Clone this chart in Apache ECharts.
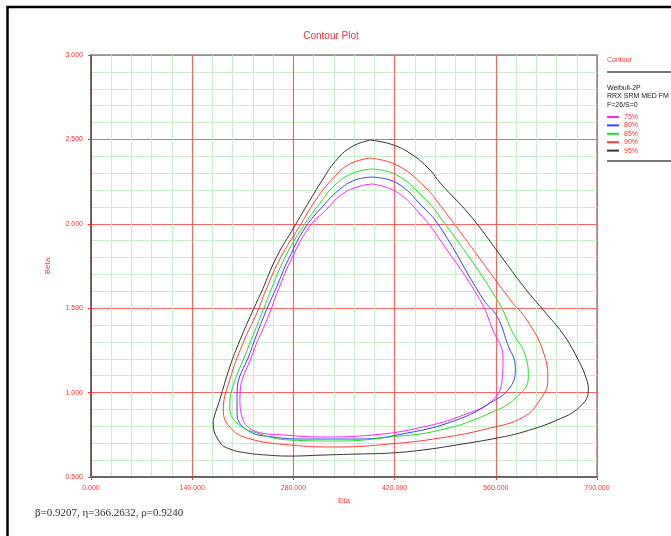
<!DOCTYPE html>
<html><head><meta charset="utf-8">
<script src="https://cdn.jsdelivr.net/npm/echarts@6/dist/echarts.min.js"></script>
<style>html,body{margin:0;padding:0;background:#fff}#c{width:671px;height:536px}</style>
</head><body><div id="c"></div>
<script>
// Eta (x) and Beta (y) points of each confidence contour, read clockwise from the top
const c75 = [[389,2.236],[423,2.188],[459,2.04],[483,1.904],[538,1.55],[556,1.37],[570,1.21],[569,1.09],[556,0.956],[515,0.867],[459,0.796],[390,0.749],[321,0.737],[266,0.749],[230,0.767],[209,0.856],[206,0.974],[224,1.235],[245,1.448],[259,1.608],[278,1.797],[302,1.981],[325,2.082],[346,2.171],[368,2.218],[389,2.236]];
const c80 = [[389,2.277],[423,2.242],[459,2.10],[483,1.98],[543,1.55],[562,1.45],[576,1.29],[587,1.15],[580,1.033],[552,0.938],[506,0.838],[437,0.76],[368,0.725],[298,0.725],[252,0.737],[216,0.778],[202,0.88],[202,0.998],[220,1.235],[241,1.472],[255,1.608],[274,1.797],[297,1.981],[321,2.105],[343,2.20],[365,2.259],[389,2.277]];
const c85 = [[389,2.325],[423,2.289],[459,2.16],[483,2.04],[562,1.55],[584,1.35],[600,1.23],[605,1.09],[589,0.974],[552,0.878],[483,0.778],[414,0.737],[344,0.713],[275,0.719],[230,0.76],[202,0.82],[192,0.915],[196,1.033],[216,1.25],[237,1.477],[249,1.608],[268,1.797],[293,1.981],[317,2.123],[339,2.236],[363,2.301],[389,2.325]];
const c90 = [[386,2.39],[423,2.348],[459,2.23],[483,2.11],[580,1.55],[603,1.43],[625,1.25],[632,1.075],[621,0.956],[598,0.855],[552,0.79],[483,0.731],[414,0.696],[344,0.678],[275,0.690],[216,0.731],[192,0.796],[183,0.897],[192,1.075],[210,1.29],[230,1.477],[242,1.608],[262,1.797],[288,1.981],[311,2.141],[335,2.271],[358,2.354],[386,2.39]];
const c95 = [[386,2.496],[414,2.473],[441,2.419],[469,2.319],[483,2.242],[524,2.052],[566,1.815],[600,1.62],[628,1.477],[652,1.353],[672,1.211],[685,1.086],[688,1.015],[676,0.915],[645,0.838],[598,0.767],[562,0.731],[506,0.690],[459,0.660],[414,0.642],[368,0.636],[321,0.630],[275,0.624],[243,0.630],[216,0.642],[192,0.666],[178,0.707],[169,0.820],[170,0.850],[178,0.956],[192,1.152],[206,1.31],[223,1.477],[237,1.608],[256,1.797],[281,1.981],[303,2.141],[320,2.259],[338,2.37],[360,2.455],[386,2.496]];
const seriesNames = ['75%','80%','85%','90%','95%'];
const seriesData = [c75, c80, c85, c90, c95];
const seriesColors = ['#ff22ff','#3344ff','#22dd22','#ff3b3b','#333333'];
const xTicks = {min:0, max:700, step:140};
const yTicks = {min:0.5, max:3.0, step:0.5};
const infoLines = ['Weibull-2P','RRX SRM MED FM','F=26/S=0'];
const footer = 'β=0.9207, η=366.2632, ρ=0.9240';

const red = '#ff3030';
const chart = echarts.init(document.getElementById('c'));
const axisCommon = {
  axisLine:{show:true,onZero:false,lineStyle:{color:'#555',width:1.5}},
  axisTick:{show:true,length:3,lineStyle:{color:red}},
  minorTick:{show:false,splitNumber:5},
  splitLine:{show:true,lineStyle:{color:'#ff6060',width:1.2}},
  minorSplitLine:{show:true,lineStyle:{color:'#c8f0c8',width:1}},
  axisLabel:{color:red,fontSize:7,fontFamily:'Liberation Sans',formatter:v=>v.toFixed(3)},
  nameTextStyle:{color:red,fontSize:8,fontFamily:'Liberation Sans'}
};
chart.setOption({
  animation:false,
  grid:{left:91,right:74,top:55,bottom:59,show:true,borderColor:'#aaa',borderWidth:2},
  xAxis:Object.assign({type:'value',min:xTicks.min,max:xTicks.max,interval:xTicks.step,
    name:'Eta',nameLocation:'middle',nameGap:20},axisCommon),
  yAxis:Object.assign({type:'value',min:yTicks.min,max:yTicks.max,interval:yTicks.step,
    name:'Beta',nameLocation:'middle',nameGap:39},axisCommon),
  legend:{orient:'vertical',left:607,top:113.5,padding:0,itemWidth:12,itemHeight:2,itemGap:1.4,icon:'rect',
    textStyle:{color:red,fontSize:7,fontFamily:'Liberation Sans',padding:[0,0,0,0]},data:seriesNames},
  series:seriesNames.map((n,i)=>({name:n,type:'line',data:seriesData[i],smooth:0.45,showSymbol:false,
    lineStyle:{color:seriesColors[i],width:1},itemStyle:{color:seriesColors[i]}})),
  graphic:[
    {type:'rect',shape:{x:7.5,y:7,width:800,height:700},style:{fill:'none',stroke:'#000',lineWidth:2.5},silent:true},
    {type:'text',x:331,y:36,style:{text:'Contour Plot',fill:red,font:'10px "Liberation Sans"',textAlign:'center',textVerticalAlign:'middle'}},
    {type:'text',x:607,y:60,style:{text:'Contour',fill:red,font:'7px "Liberation Sans"',textVerticalAlign:'middle'}},
    {type:'line',shape:{x1:607,y1:72,x2:680,y2:72},style:{stroke:'#777',lineWidth:2}},
    {type:'text',x:607,y:88,style:{text:infoLines[0],fill:'#222',font:'7px "Liberation Sans"',textVerticalAlign:'middle'}},
    {type:'text',x:607,y:96,style:{text:infoLines[1],fill:'#222',font:'7px "Liberation Sans"',textVerticalAlign:'middle'}},
    {type:'text',x:607,y:105,style:{text:infoLines[2],fill:'#222',font:'7px "Liberation Sans"',textVerticalAlign:'middle'}},
    {type:'line',shape:{x1:607,y1:161,x2:680,y2:161},style:{stroke:'#777',lineWidth:2}},
    {type:'text',x:35,y:513,style:{text:footer,fill:'#333',font:'11px "Liberation Serif"',textVerticalAlign:'middle'}}
  ]
});
</script></body></html>
